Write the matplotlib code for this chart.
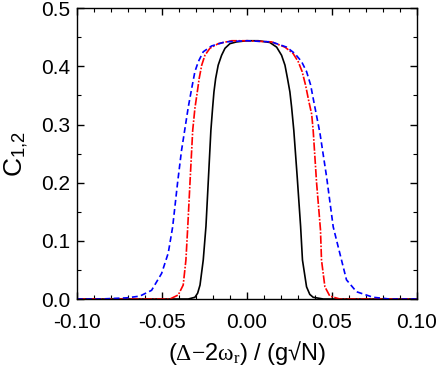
import matplotlib
matplotlib.use("Agg")
import matplotlib.pyplot as plt
from matplotlib.ticker import MultipleLocator

plt.rcParams['font.family'] = ['Liberation Sans', 'DejaVu Sans']
plt.rcParams['mathtext.fontset'] = 'custom'
plt.rcParams['mathtext.rm'] = 'Liberation Serif'
plt.rcParams['mathtext.it'] = 'Liberation Serif'

# Black solid curve
black_x = [-0.100, -0.0345, -0.0306, -0.0290, -0.0276, -0.0257, -0.0241, -0.0226, -0.0212,
           -0.0202, -0.0194, -0.0184, -0.0169, -0.0149, -0.0129, -0.0100, -0.0061, 0.000,
           0.0067, 0.0135, 0.0175, 0.0204, 0.0224, 0.0239, 0.0253, 0.0263, 0.0276,
           0.0296, 0.0316, 0.0327, 0.0351, 0.0370, 0.0390, 0.0450, 0.100]
black_y = [0.000, 0.000, 0.003, 0.010, 0.024, 0.067, 0.125, 0.210, 0.290,
           0.328, 0.356, 0.379, 0.402, 0.419, 0.431, 0.439, 0.442, 0.444,
           0.444, 0.441, 0.433, 0.419, 0.402, 0.379, 0.356, 0.330, 0.290,
           0.210, 0.125, 0.067, 0.021, 0.008, 0.003, 0.000, 0.000]

# Red dash-dot curve
red_x = [-0.100, -0.0453, -0.0404, -0.0375, -0.0359, -0.0348, -0.0335, -0.0319, -0.0306,
         -0.0292, -0.0281, -0.0266, -0.0247, -0.0218, -0.0169, -0.0090, 0.000, 0.0145,
         0.0224, 0.0272, 0.0302, 0.0325, 0.0345, 0.0365, 0.0381, 0.0390, 0.0410,
         0.0433, 0.0439, 0.0459, 0.0488, 0.0547, 0.100]
red_y = [0.000, 0.000, 0.007, 0.024, 0.067, 0.125, 0.200, 0.290, 0.328,
         0.356, 0.379, 0.402, 0.419, 0.431, 0.439, 0.444, 0.444, 0.442,
         0.433, 0.422, 0.408, 0.391, 0.368, 0.339, 0.318, 0.290, 0.200,
         0.119, 0.067, 0.021, 0.005, 0.000, 0.000]

# Blue dashed curve
blue_x = [-0.100, -0.0865, -0.0708, -0.0630, -0.0561, -0.0502, -0.0463, -0.0437, -0.0408,
          -0.0385, -0.0362, -0.0345, -0.0325, -0.0306, -0.0286, -0.0257, -0.0208, -0.0129, 0.000,
          0.0145, 0.0234, 0.0282, 0.0322, 0.0351, 0.0375, 0.0394, 0.0410, 0.0430,
          0.0469, 0.0508, 0.0537, 0.0586, 0.0645, 0.0743, 0.0840, 0.100]
blue_y = [0.000, 0.000, 0.002, 0.005, 0.015, 0.044, 0.079, 0.124, 0.200,
          0.255, 0.298, 0.330, 0.362, 0.391, 0.408, 0.425, 0.435, 0.442, 0.444,
          0.442, 0.433, 0.422, 0.408, 0.391, 0.368, 0.339, 0.315, 0.285,
          0.210, 0.124, 0.090, 0.033, 0.0125, 0.003, 0.000, 0.000]

fig = plt.figure(figsize=(4.36, 3.71), dpi=100)
ax = fig.add_axes([0.1766, 0.194, 0.7794, 0.784])

ax.plot(black_x, black_y, color='black', lw=1.2, ls='-')
ax.plot(red_x, red_y, color='red', lw=1.2, ls=(0, (5, 1, 1, 1)))
ax.plot(blue_x, blue_y, color='blue', lw=1.2, ls=(0, (3.5, 2)))

ax.set_xlim(-0.10, 0.10)
ax.set_ylim(0.0, 0.5)
ax.xaxis.set_major_locator(MultipleLocator(0.05))
ax.xaxis.set_minor_locator(MultipleLocator(0.01))
ax.yaxis.set_major_locator(MultipleLocator(0.1))
ax.yaxis.set_minor_locator(MultipleLocator(0.05))
ax.tick_params(which='both', direction='in', top=True, right=True, labelsize=15)
ax.tick_params(which='major', length=5, width=1)
ax.tick_params(which='minor', length=3, width=0.8)
ax.xaxis.set_major_formatter(plt.FuncFormatter(lambda v, p: f"{v:.2f}"))
ax.yaxis.set_major_formatter(plt.FuncFormatter(lambda v, p: f"{v:.1f}"))
ax.tick_params(axis='x', pad=10)
ax.tick_params(axis='y', pad=5)
for s in ax.spines.values():
    s.set_linewidth(1.0)

ax.set_xlabel(r'($\Delta$$-$2$\omega_{\mathrm{r}}$) / (g√N)', fontsize=17, labelpad=5)
ax.set_ylabel(r'C$_{\mathregular{1{,}2}}$', fontsize=19, labelpad=8)

fig.savefig('out.png', dpi=100)
